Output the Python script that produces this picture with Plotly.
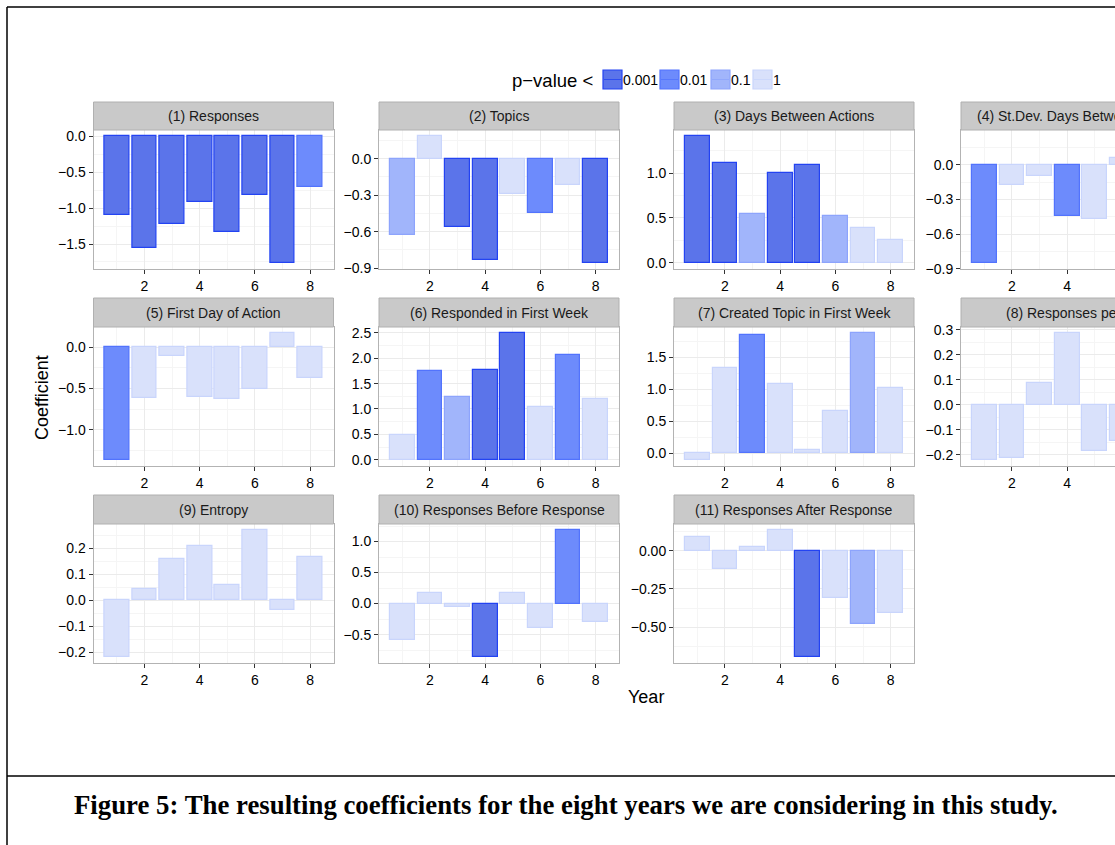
import plotly.graph_objects as go

W, H = 1115, 845
FONT = "Liberation Sans, Arial, Helvetica, sans-serif"

years = [1, 2, 3, 4, 5, 6, 7, 8]

titles = [
    "(1) Responses",
    "(2) Topics",
    "(3) Days Between Actions",
    "(4) St.Dev. Days Between Actions",
    "(5) First Day of Action",
    "(6) Responded in First Week",
    "(7) Created Topic in First Week",
    "(8) Responses per Topic",
    "(9) Entropy",
    "(10) Responses Before Response",
    "(11) Responses After Response",
]

# coefficients per year, one list per model variable
coef_responses = [-1.09, -1.55, -1.22, -0.92, -1.33, -0.82, -1.76, -0.71]
coef_topics = [-0.625, 0.185, -0.56, -0.83, -0.29, -0.45, -0.215, -0.856]
coef_days_between = [1.41, 1.114, 0.539, 0.996, 1.085, 0.517, 0.391, 0.251]
coef_sd_days = [-0.847, -0.176, -0.097, -0.446, -0.466, 0.057, 0.245, -0.12]
coef_first_day = [-1.364, -0.612, -0.104, -0.608, -0.628, -0.512, 0.168, -0.368]
coef_responded_week = [0.488, 1.758, 1.243, 1.764, 2.493, 1.042, 2.07, 1.198]
coef_created_week = [-0.098, 1.33, 1.849, 1.073, 0.051, 0.663, 1.87, 1.017]
coef_resp_per_topic = [-0.219, -0.211, 0.088, 0.286, -0.183, -0.146, 0.05, -0.1]
coef_entropy = [-0.217, 0.042, 0.159, 0.206, 0.058, 0.268, -0.037, 0.165]
coef_before = [-0.585, 0.165, -0.048, -0.856, 0.165, -0.394, 1.181, -0.298]
coef_after = [0.089, -0.117, 0.022, 0.134, -0.693, -0.312, -0.478, -0.407]

# significance class of each coefficient (p-value < level)
p_responses = ["0.001"] * 7 + ["0.01"]
p_topics = ["0.1", "1", "0.001", "0.001", "1", "0.01", "1", "0.001"]
p_days_between = ["0.001", "0.001", "0.1", "0.001", "0.001", "0.1", "1", "1"]
p_sd_days = ["0.01", "1", "1", "0.01", "1", "1", "1", "1"]
p_first_day = ["0.01", "1", "1", "1", "1", "1", "1", "1"]
p_responded_week = ["1", "0.01", "0.1", "0.001", "0.001", "1", "0.01", "1"]
p_created_week = ["1", "1", "0.01", "1", "1", "1", "0.1", "1"]
p_resp_per_topic = ["1"] * 8
p_entropy = ["1"] * 8
p_before = ["1", "1", "1", "0.001", "1", "1", "0.01", "1"]
p_after = ["1", "1", "1", "1", "0.001", "1", "0.1", "1"]

levels = ["0.001", "0.01", "0.1", "1"]

coefs = [coef_responses, coef_topics, coef_days_between, coef_sd_days,
         coef_first_day, coef_responded_week, coef_created_week,
         coef_resp_per_topic, coef_entropy, coef_before, coef_after]
pvals = [p_responses, p_topics, p_days_between, p_sd_days, p_first_day,
         p_responded_week, p_created_week, p_resp_per_topic, p_entropy,
         p_before, p_after]

y_dticks = [0.5, 0.3, 0.5, 0.3, 0.5, 0.5, 0.5, 0.1, 0.1, 0.5, 0.25]
y_formats = [".1f"] * 10 + [".2f"]

FILL = {"0.001": "#5B74EA", "0.01": "#6D8BFC", "0.1": "#A1B5FB", "1": "#D9E1FB"}
EDGE = {"0.001": "#2343F2", "0.01": "#5273FD", "0.1": "#8DA4FC", "1": "#C9D5FC"}

# panel geometry in pixels
COL_X = [93.5, 379, 674, 961]
PANEL_W = 240
STRIP_TOP = [102, 298, 495]
PLOT_TOP = [130, 327, 524]
PLOT_H = 139
X_LO, X_HI = 0.155, 8.845


def px(x):
    return x / W


def py(y):
    return 1 - y / H


fig = go.Figure()
layout = {}
shapes = []
annotations = []

for i, (vals, ps) in enumerate(zip(coefs, pvals)):
    row, col = divmod(i, 4)
    sfx = "" if i == 0 else str(i + 1)
    x0 = COL_X[col]
    x1 = x0 + PANEL_W
    clipped = x1 > W
    xr_hi = X_LO + (min(x1, W) - x0) / PANEL_W * (X_HI - X_LO)
    y0 = PLOT_TOP[row]
    y1 = y0 + PLOT_H

    lo = min(min(vals), 0)
    hi = max(max(vals), 0)
    pad = 0.05 * (hi - lo)

    fig.add_trace(go.Bar(
        x=years, y=vals, width=0.9,
        marker=dict(color=[FILL[p] for p in ps],
                    line=dict(color=[EDGE[p] for p in ps], width=1.2)),
        xaxis="x" + sfx, yaxis="y" + sfx, showlegend=False,
    ))

    layout["xaxis" + sfx] = dict(
        domain=[px(x0), px(min(x1, W))], anchor="y" + sfx,
        range=[X_LO, xr_hi], tickvals=[2, 4, 6, 8],
        ticks="outside", ticklen=4, tickcolor="#333333", tickwidth=1,
        tickfont=dict(size=14, color="#000000", family=FONT),
        showgrid=True, gridcolor="#EBEBEB", gridwidth=1,
        minor=dict(tickvals=[1, 3, 5, 7], showgrid=True,
                   gridcolor="#F5F5F5", gridwidth=1),
        showline=True, linecolor="#B3B3B3", linewidth=1, mirror=True,
        zeroline=False, fixedrange=True, automargin=False,
    )
    dt = y_dticks[i]
    layout["yaxis" + sfx] = dict(
        domain=[py(y1), py(y0)], anchor="x" + sfx,
        range=[lo - pad, hi + pad], tick0=0, dtick=dt,
        tickformat=y_formats[i],
        ticks="outside", ticklen=4, tickcolor="#333333", tickwidth=1,
        tickfont=dict(size=14, color="#000000", family=FONT),
        showgrid=True, gridcolor="#EBEBEB", gridwidth=1,
        minor=dict(tick0=0, dtick=dt / 2, showgrid=True,
                   gridcolor="#F5F5F5", gridwidth=1),
        showline=True, linecolor="#B3B3B3", linewidth=1,
        mirror=not clipped, zeroline=False, fixedrange=True,
        automargin=False,
    )

    # facet strip
    s_top = STRIP_TOP[row]
    shapes.append(dict(type="rect", xref="paper", yref="paper",
                       x0=px(x0), x1=px(x1), y0=py(y0), y1=py(s_top),
                       fillcolor="#C9C9C9", line=dict(color="#B0B0B0", width=1),
                       layer="above"))
    annotations.append(dict(text=titles[i], xref="paper", yref="paper",
                            x=px((x0 + x1) / 2), y=py((s_top + y0) / 2),
                            xanchor="center", yanchor="middle", showarrow=False,
                            font=dict(size=14, color="#1A1A1A", family=FONT)))

# legend
annotations.append(dict(text="p\u2212value <", xref="paper", yref="paper",
                        x=px(595), y=py(80), xanchor="right", yanchor="middle",
                        showarrow=False,
                        font=dict(size=18.5, color="#000000", family=FONT)))
key_x = [603, 660, 711, 753]
for lvl, kx in zip(levels, key_x):
    shapes.append(dict(type="rect", xref="paper", yref="paper",
                       x0=px(kx), x1=px(kx + 19), y0=py(89), y1=py(70),
                       fillcolor=FILL[lvl], line=dict(color=EDGE[lvl], width=1.2)))
    shapes.append(dict(type="line", xref="paper", yref="paper",
                       x0=px(kx + 1), x1=px(kx + 18), y0=py(79.5), y1=py(79.5),
                       line=dict(color=EDGE[lvl], width=0.8)))
    annotations.append(dict(text=lvl, xref="paper", yref="paper",
                            x=px(kx + 18.5), y=py(80), xanchor="left",
                            yanchor="middle", showarrow=False, borderpad=0,
                            font=dict(size=14, color="#000000", family=FONT)))

# axis titles
annotations.append(dict(text="Year", xref="paper", yref="paper",
                        x=px(646), y=py(697), xanchor="center", yanchor="middle",
                        showarrow=False,
                        font=dict(size=18, color="#000000", family=FONT)))
annotations.append(dict(text="Coefficient", xref="paper", yref="paper",
                        x=px(42), y=py(398), xanchor="center", yanchor="middle",
                        textangle=-90, showarrow=False,
                        font=dict(size=18, color="#000000", family=FONT)))

# caption
annotations.append(dict(
    text="<b>Figure 5: The resulting coefficients for the eight years we are considering in this study.</b>",
    xref="paper", yref="paper", x=px(566), y=py(805),
    xanchor="center", yanchor="middle", showarrow=False,
    font=dict(size=26.8, color="#000000",
              family="Liberation Serif, Times New Roman, serif")))

# page frame
frame = dict(color="#000000", width=1.5)
shapes.append(dict(type="line", xref="paper", yref="paper",
                   x0=px(7), x1=px(W + 5), y0=py(7), y1=py(7), line=frame))
shapes.append(dict(type="line", xref="paper", yref="paper",
                   x0=px(7), x1=px(7), y0=py(7), y1=py(H + 5), line=frame))
shapes.append(dict(type="line", xref="paper", yref="paper",
                   x0=px(7), x1=px(W + 5), y0=py(776), y1=py(776), line=frame))

fig.update_layout(
    width=W, height=H,
    margin=dict(l=0, r=0, t=0, b=0, pad=0, autoexpand=False),
    paper_bgcolor="#FFFFFF", plot_bgcolor="#FFFFFF",
    showlegend=False, bargap=0,
    font=dict(family=FONT, color="#000000"),
    shapes=shapes, annotations=annotations,
    **layout,
)

fig.write_html("out.html")
